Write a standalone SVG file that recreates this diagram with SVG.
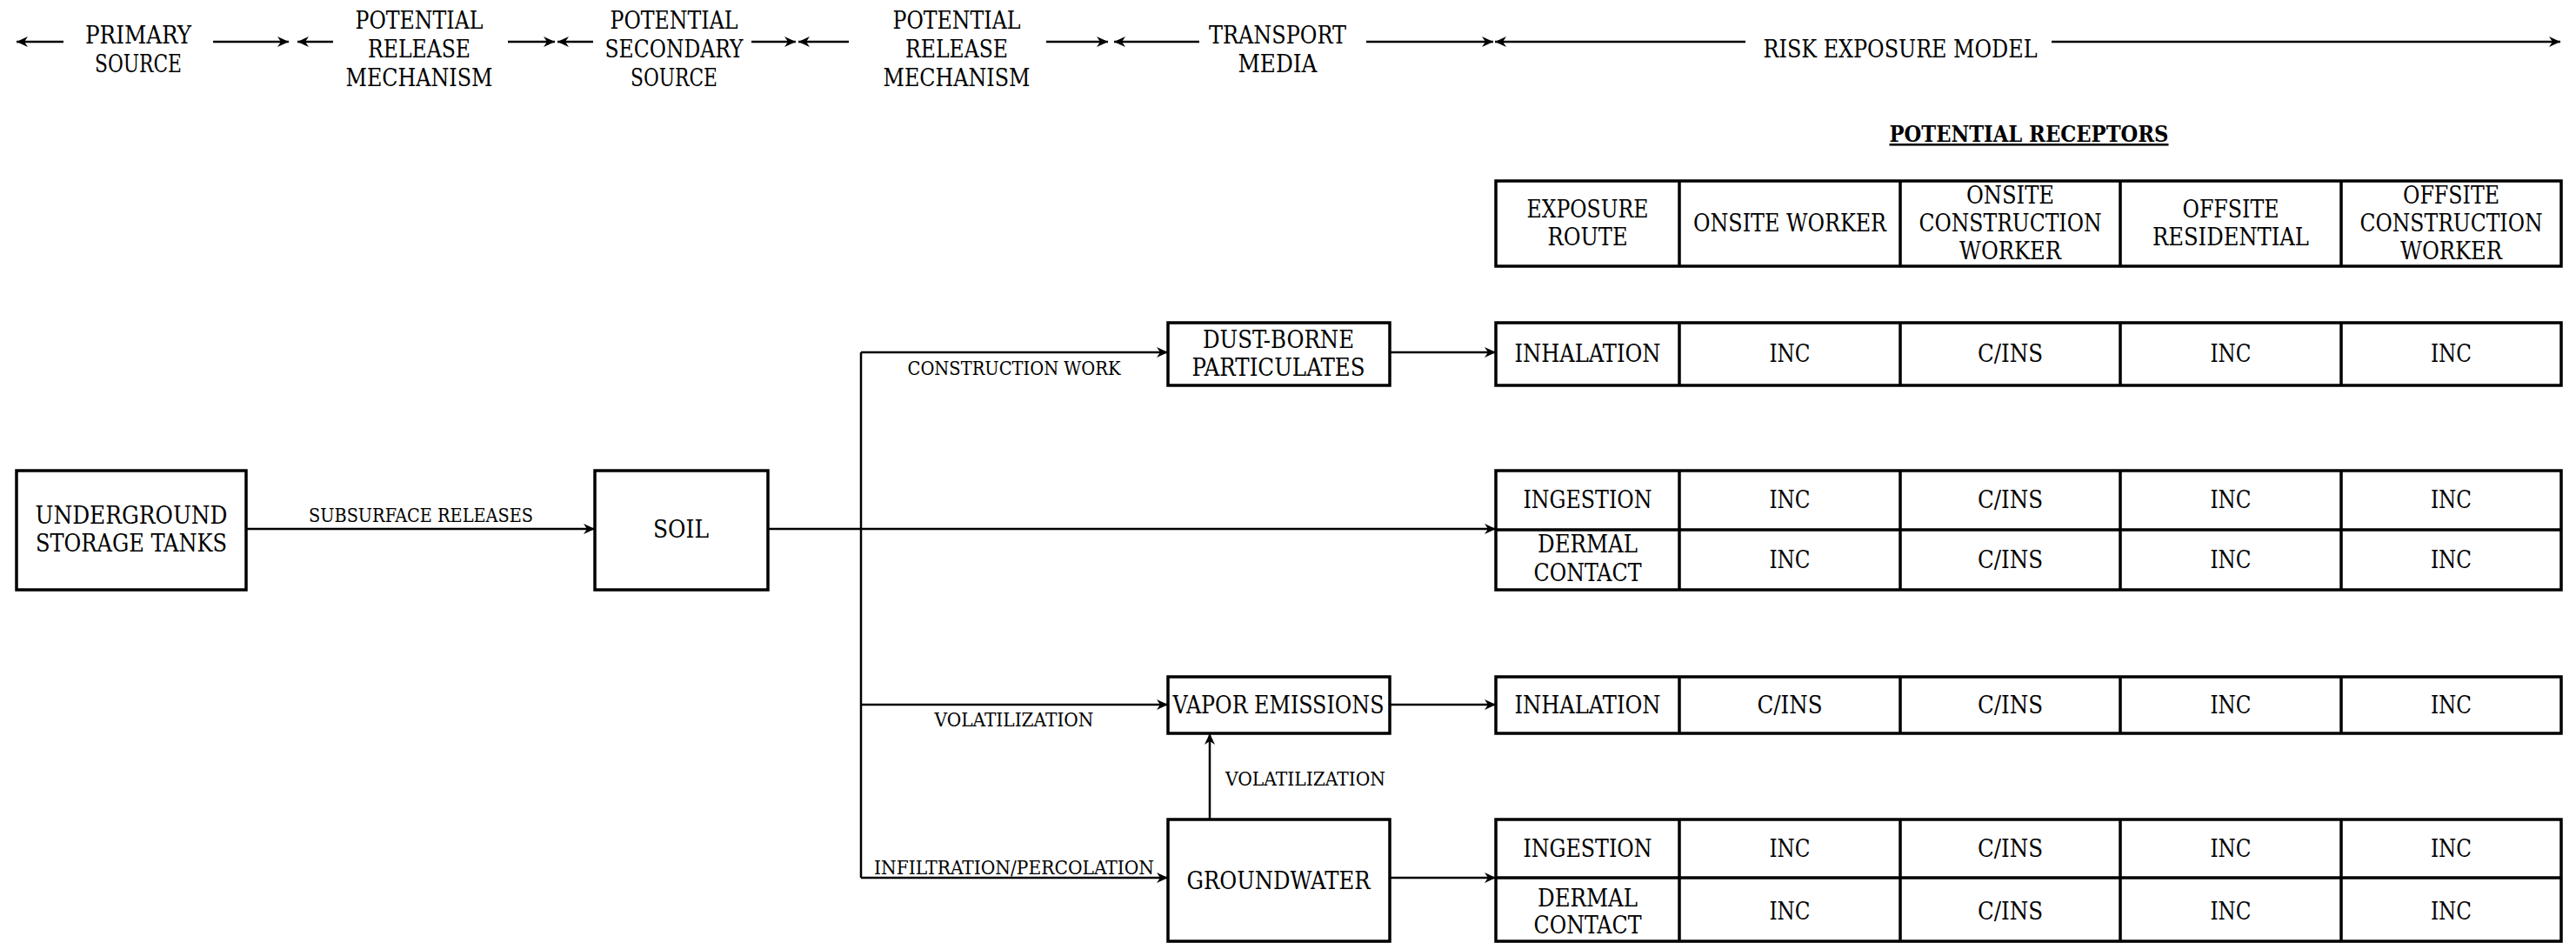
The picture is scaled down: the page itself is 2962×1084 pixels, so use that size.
<svg xmlns="http://www.w3.org/2000/svg" width="2962" height="1084" viewBox="0 0 2962 1084">
<style>
text{font-family:"DejaVu Serif Condensed","DejaVu Serif",serif;font-stretch:condensed;fill:#000;text-anchor:middle}
.h{font-size:27px}
.n{font-size:27px}
.s{font-size:21.5px}
.b{font-size:25.5px;font-weight:bold;text-decoration:underline}
.box{fill:#fff;stroke:#000;stroke-width:3.5}
.ln{fill:none;stroke:#000;stroke-width:2.5}
.hl{fill:none;stroke:#000;stroke-width:2.5}
.cell{fill:none;stroke:#000;stroke-width:3.5}
</style>
<defs>
<marker id="ah" markerUnits="userSpaceOnUse" markerWidth="14" markerHeight="14" refX="13" refY="7" orient="auto" viewBox="0 0 14 14">
<path d="M0,1 L13,7 L0,13 L4,7 z" fill="#000"/>
</marker>
</defs>
<rect width="2962" height="1084" fill="#fff"/>

<g id="legend">
<g id="legend-arrows" class="hl">
<line x1="73" y1="48" x2="19" y2="48" marker-end="url(#ah)"/>
<line x1="245" y1="48" x2="332" y2="48" marker-end="url(#ah)"/>
<line x1="383" y1="48" x2="342" y2="48" marker-end="url(#ah)"/>
<line x1="584" y1="48" x2="638" y2="48" marker-end="url(#ah)"/>
<line x1="682" y1="48" x2="641" y2="48" marker-end="url(#ah)"/>
<line x1="864" y1="48" x2="915" y2="48" marker-end="url(#ah)"/>
<line x1="976" y1="48" x2="918" y2="48" marker-end="url(#ah)"/>
<line x1="1203" y1="48" x2="1274" y2="48" marker-end="url(#ah)"/>
<line x1="1379" y1="48" x2="1281" y2="48" marker-end="url(#ah)"/>
<line x1="1571" y1="48" x2="1717" y2="48" marker-end="url(#ah)"/>
<line x1="2007" y1="48" x2="1719" y2="48" marker-end="url(#ah)"/>
<line x1="2359" y1="48" x2="2944" y2="48" marker-end="url(#ah)"/>
</g>
<text class="h" x="159" y="50" textLength="122" lengthAdjust="spacingAndGlyphs">PRIMARY</text>
<text class="h" x="159" y="83" textLength="100" lengthAdjust="spacingAndGlyphs">SOURCE</text>
<text class="h" x="482" y="33" textLength="147" lengthAdjust="spacingAndGlyphs">POTENTIAL</text>
<text class="h" x="482" y="66" textLength="118" lengthAdjust="spacingAndGlyphs">RELEASE</text>
<text class="h" x="482" y="99" textLength="169" lengthAdjust="spacingAndGlyphs">MECHANISM</text>
<text class="h" x="775" y="33" textLength="147" lengthAdjust="spacingAndGlyphs">POTENTIAL</text>
<text class="h" x="775" y="66" textLength="159" lengthAdjust="spacingAndGlyphs">SECONDARY</text>
<text class="h" x="775" y="99" textLength="100" lengthAdjust="spacingAndGlyphs">SOURCE</text>
<text class="h" x="1100" y="33" textLength="147" lengthAdjust="spacingAndGlyphs">POTENTIAL</text>
<text class="h" x="1100" y="66" textLength="118" lengthAdjust="spacingAndGlyphs">RELEASE</text>
<text class="h" x="1100" y="99" textLength="169" lengthAdjust="spacingAndGlyphs">MECHANISM</text>
<text class="h" x="1469" y="50" textLength="158" lengthAdjust="spacingAndGlyphs">TRANSPORT</text>
<text class="h" x="1469" y="83" textLength="91" lengthAdjust="spacingAndGlyphs">MEDIA</text>
<text class="h" x="2185" y="66" textLength="315" lengthAdjust="spacingAndGlyphs">RISK EXPOSURE MODEL</text>
</g>

<g id="connectors" class="ln">
<line x1="283" y1="608" x2="684" y2="608" marker-end="url(#ah)"/>
<line x1="883" y1="608" x2="1720" y2="608" marker-end="url(#ah)"/>
<line x1="990" y1="405" x2="990" y2="1009"/>
<line x1="990" y1="405" x2="1343" y2="405" marker-end="url(#ah)"/>
<line x1="990" y1="810" x2="1343" y2="810" marker-end="url(#ah)"/>
<line x1="990" y1="1009" x2="1343" y2="1009" marker-end="url(#ah)"/>
<line x1="1391" y1="942" x2="1391" y2="843" marker-end="url(#ah)"/>
<line x1="1598" y1="405" x2="1720" y2="405" marker-end="url(#ah)"/>
<line x1="1598" y1="810" x2="1720" y2="810" marker-end="url(#ah)"/>
<line x1="1598" y1="1009" x2="1720" y2="1009" marker-end="url(#ah)"/>
</g>
<g id="connector-labels">
<text class="s" x="484" y="600" textLength="258" lengthAdjust="spacingAndGlyphs">SUBSURFACE RELEASES</text>
<text class="s" x="1166" y="431" textLength="245" lengthAdjust="spacingAndGlyphs">CONSTRUCTION WORK</text>
<text class="s" x="1166" y="835" textLength="183" lengthAdjust="spacingAndGlyphs">VOLATILIZATION</text>
<text class="s" x="1166" y="1005" textLength="322" lengthAdjust="spacingAndGlyphs">INFILTRATION/PERCOLATION</text>
<text class="s" x="1409" y="903" style="text-anchor:start" textLength="184" lengthAdjust="spacingAndGlyphs">VOLATILIZATION</text>
</g>

<g id="node-ust">
<rect class="box" x="19" y="541" width="264" height="137"/>
<text class="n" x="151" y="602" textLength="221" lengthAdjust="spacingAndGlyphs">UNDERGROUND</text>
<text class="n" x="151" y="634" textLength="220" lengthAdjust="spacingAndGlyphs">STORAGE TANKS</text>
</g>
<g id="node-soil">
<rect class="box" x="684" y="541" width="199" height="137"/>
<text class="n" x="783" y="618" textLength="64" lengthAdjust="spacingAndGlyphs">SOIL</text>
</g>
<g id="node-dust">
<rect class="box" x="1343" y="371" width="255" height="72"/>
<text class="n" x="1470" y="400" textLength="174" lengthAdjust="spacingAndGlyphs">DUST-BORNE</text>
<text class="n" x="1470" y="432" textLength="199" lengthAdjust="spacingAndGlyphs">PARTICULATES</text>
</g>
<g id="node-vapor">
<rect class="box" x="1343" y="778" width="255" height="65"/>
<text class="n" x="1470" y="820" textLength="243" lengthAdjust="spacingAndGlyphs">VAPOR EMISSIONS</text>
</g>
<g id="node-groundwater">
<rect class="box" x="1343" y="942" width="255" height="140"/>
<text class="n" x="1470" y="1022" textLength="211" lengthAdjust="spacingAndGlyphs">GROUNDWATER</text>
</g>

<g id="receptors-title">
<text class="b" x="2333" y="163" textLength="321" lengthAdjust="spacingAndGlyphs">POTENTIAL RECEPTORS</text>
</g>

<g id="table-header">
<rect class="cell" x="1720" y="208" width="1225" height="98"/>
<path class="cell" d="M1931,208V306M2185,208V306M2438,208V306M2692,208V306"/>
<text class="n" x="1825.5" y="250" textLength="140" lengthAdjust="spacingAndGlyphs">EXPOSURE</text>
<text class="n" x="1825.5" y="282" textLength="92" lengthAdjust="spacingAndGlyphs">ROUTE</text>
<text class="n" x="2058" y="266" textLength="222" lengthAdjust="spacingAndGlyphs">ONSITE WORKER</text>
<text class="n" x="2311.5" y="234" textLength="101" lengthAdjust="spacingAndGlyphs">ONSITE</text>
<text class="n" x="2311.5" y="266" textLength="210" lengthAdjust="spacingAndGlyphs">CONSTRUCTION</text>
<text class="n" x="2311.5" y="298" textLength="117" lengthAdjust="spacingAndGlyphs">WORKER</text>
<text class="n" x="2565" y="250" textLength="111" lengthAdjust="spacingAndGlyphs">OFFSITE</text>
<text class="n" x="2565" y="282" textLength="180" lengthAdjust="spacingAndGlyphs">RESIDENTIAL</text>
<text class="n" x="2818.5" y="234" textLength="111" lengthAdjust="spacingAndGlyphs">OFFSITE</text>
<text class="n" x="2818.5" y="266" textLength="210" lengthAdjust="spacingAndGlyphs">CONSTRUCTION</text>
<text class="n" x="2818.5" y="298" textLength="117" lengthAdjust="spacingAndGlyphs">WORKER</text>
</g>

<g id="table-dust">
<rect class="cell" x="1720" y="371" width="1225" height="72"/>
<path class="cell" d="M1931,371V443M2185,371V443M2438,371V443M2692,371V443"/>
<text class="n" x="1825.5" y="416" textLength="168" lengthAdjust="spacingAndGlyphs">INHALATION</text>
<text class="n" x="2058" y="416" textLength="47" lengthAdjust="spacingAndGlyphs">INC</text>
<text class="n" x="2311.5" y="416" textLength="75" lengthAdjust="spacingAndGlyphs">C/INS</text>
<text class="n" x="2565" y="416" textLength="47" lengthAdjust="spacingAndGlyphs">INC</text>
<text class="n" x="2818.5" y="416" textLength="47" lengthAdjust="spacingAndGlyphs">INC</text>
</g>

<g id="table-soil">
<rect class="cell" x="1720" y="541" width="1225" height="137"/>
<path class="cell" d="M1720,609H2945M1931,541V678M2185,541V678M2438,541V678M2692,541V678"/>
<text class="n" x="1825.5" y="584" textLength="148" lengthAdjust="spacingAndGlyphs">INGESTION</text>
<text class="n" x="2058" y="584" textLength="47" lengthAdjust="spacingAndGlyphs">INC</text>
<text class="n" x="2311.5" y="584" textLength="75" lengthAdjust="spacingAndGlyphs">C/INS</text>
<text class="n" x="2565" y="584" textLength="47" lengthAdjust="spacingAndGlyphs">INC</text>
<text class="n" x="2818.5" y="584" textLength="47" lengthAdjust="spacingAndGlyphs">INC</text>
<text class="n" x="1825.5" y="635" textLength="115" lengthAdjust="spacingAndGlyphs">DERMAL</text>
<text class="n" x="1825.5" y="668" textLength="124" lengthAdjust="spacingAndGlyphs">CONTACT</text>
<text class="n" x="2058" y="653" textLength="47" lengthAdjust="spacingAndGlyphs">INC</text>
<text class="n" x="2311.5" y="653" textLength="75" lengthAdjust="spacingAndGlyphs">C/INS</text>
<text class="n" x="2565" y="653" textLength="47" lengthAdjust="spacingAndGlyphs">INC</text>
<text class="n" x="2818.5" y="653" textLength="47" lengthAdjust="spacingAndGlyphs">INC</text>
</g>

<g id="table-vapor">
<rect class="cell" x="1720" y="778" width="1225" height="65"/>
<path class="cell" d="M1931,778V843M2185,778V843M2438,778V843M2692,778V843"/>
<text class="n" x="1825.5" y="820" textLength="168" lengthAdjust="spacingAndGlyphs">INHALATION</text>
<text class="n" x="2058" y="820" textLength="75" lengthAdjust="spacingAndGlyphs">C/INS</text>
<text class="n" x="2311.5" y="820" textLength="75" lengthAdjust="spacingAndGlyphs">C/INS</text>
<text class="n" x="2565" y="820" textLength="47" lengthAdjust="spacingAndGlyphs">INC</text>
<text class="n" x="2818.5" y="820" textLength="47" lengthAdjust="spacingAndGlyphs">INC</text>
</g>

<g id="table-groundwater">
<rect class="cell" x="1720" y="942" width="1225" height="140"/>
<path class="cell" d="M1720,1009H2945M1931,942V1082M2185,942V1082M2438,942V1082M2692,942V1082"/>
<text class="n" x="1825.5" y="985" textLength="148" lengthAdjust="spacingAndGlyphs">INGESTION</text>
<text class="n" x="2058" y="985" textLength="47" lengthAdjust="spacingAndGlyphs">INC</text>
<text class="n" x="2311.5" y="985" textLength="75" lengthAdjust="spacingAndGlyphs">C/INS</text>
<text class="n" x="2565" y="985" textLength="47" lengthAdjust="spacingAndGlyphs">INC</text>
<text class="n" x="2818.5" y="985" textLength="47" lengthAdjust="spacingAndGlyphs">INC</text>
<text class="n" x="1825.5" y="1042" textLength="115" lengthAdjust="spacingAndGlyphs">DERMAL</text>
<text class="n" x="1825.5" y="1073" textLength="124" lengthAdjust="spacingAndGlyphs">CONTACT</text>
<text class="n" x="2058" y="1057" textLength="47" lengthAdjust="spacingAndGlyphs">INC</text>
<text class="n" x="2311.5" y="1057" textLength="75" lengthAdjust="spacingAndGlyphs">C/INS</text>
<text class="n" x="2565" y="1057" textLength="47" lengthAdjust="spacingAndGlyphs">INC</text>
<text class="n" x="2818.5" y="1057" textLength="47" lengthAdjust="spacingAndGlyphs">INC</text>
</g>
</svg>
